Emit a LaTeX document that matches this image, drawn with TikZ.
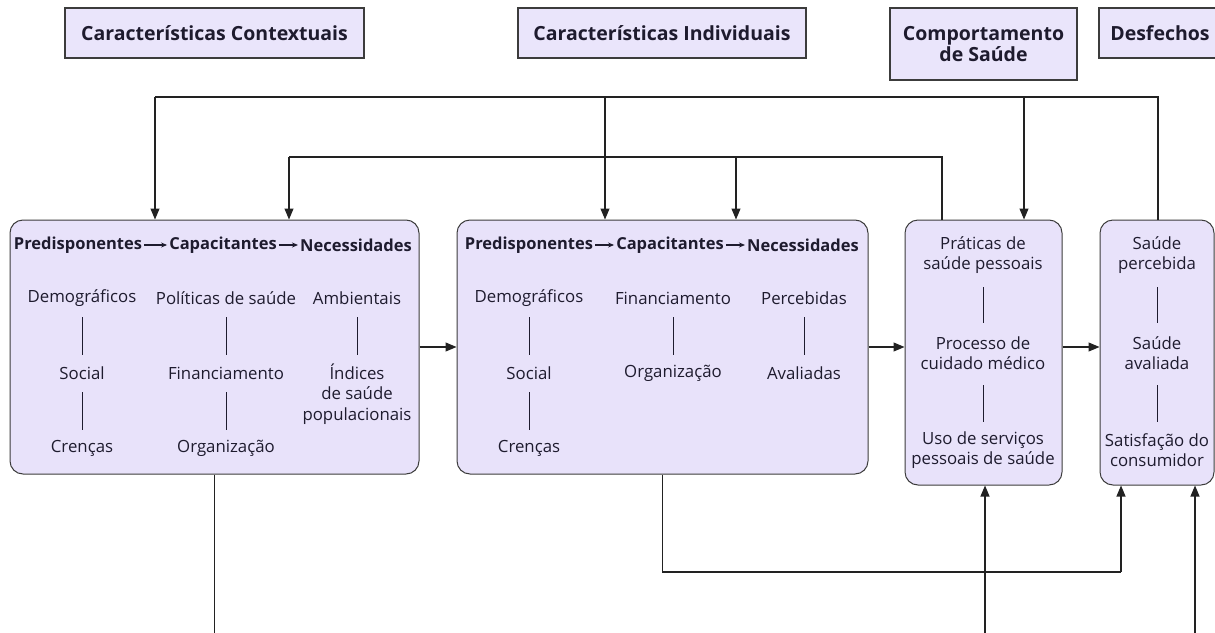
\documentclass[tikz,border=0pt]{standalone}
\usepackage{fontspec}
\setmainfont{Open Sans}
\usetikzlibrary{arrows.meta}
\definecolor{boxfill}{HTML}{E8E2FA}
\definecolor{hdrfill}{HTML}{EAE5FB}
\definecolor{edgecol}{HTML}{3C3C3C}
\definecolor{ink}{HTML}{1E1B2E}
\definecolor{wire}{HTML}{222222}
\begin{document}
\begin{tikzpicture}[x=1pt,y=-1pt,
  hdr/.style={draw=edgecol, fill=hdrfill, line width=1.3pt, text=ink, align=center, inner sep=0pt,
    font=\bfseries\fontsize{19.5}{21.5}\selectfont},
  bigbox/.style={draw=edgecol, fill=boxfill, line width=1pt, rounded corners=13pt, inner sep=0pt},
  item/.style={text=ink, align=center, inner sep=0pt, font=\fontsize{16.8}{20.5}\selectfont},
  cat/.style={text=ink, inner sep=0pt, font=\bfseries\fontsize{16.5}{18}\selectfont},
  bar/.style={draw=ink, line width=1pt},
  catarrow/.style={draw=ink, line width=1.1pt, -{Stealth[length=6pt,width=5pt]}, shorten <=2pt, shorten >=2pt},
  wireline/.style={draw=wire, line width=1.1pt},
  wirearrow/.style={draw=wire, line width=1.1pt, -{Triangle[length=11pt,width=9pt]}}
]
\useasboundingbox (0,0) rectangle (1215,632);

% header boxes
\node[hdr, minimum width=299pt, minimum height=50pt] (hctx) at (214.5,33) {Características Contextuais};
\node[hdr, minimum width=288pt, minimum height=50pt] (hind) at (662,33) {Características Individuais};
\node[hdr, minimum width=187pt, minimum height=72pt] (hcomp) at (983.5,44) {Comportamento\\de Saúde};
\node[hdr, minimum width=122pt, minimum height=50pt] (hdes) at (1160,33) {Desfechos};

% big boxes
\node[bigbox, minimum width=409pt, minimum height=254pt] (big1) at (214.5,347) {};
\node[bigbox, minimum width=411pt, minimum height=254pt] (big2) at (662.5,347) {};
\node[bigbox, minimum width=157pt, minimum height=265pt] (big3) at (983.5,352.5) {};
\node[bigbox, minimum width=114pt, minimum height=265pt] (big4) at (1157,352.5) {};

% box 1 contents
\node[cat] (p1) at (78,245) {Predisponentes};
\node[cat] (c1) at (223,245) {Capacitantes};
\node[cat] (n1) at (356,245) {Necessidades};
\draw[catarrow] (p1.east) -- (c1.west);
\draw[catarrow] (c1.east) -- (n1.west);
\node[item] (a1) at (82,298) {Demográficos};
\node[item] (a2) at (82,373) {Social};
\node[item] (a3) at (82,448) {Crenças};
\node[item] (b1) at (226,298) {Políticas de saúde};
\node[item] (b2) at (226,373) {Financiamento};
\node[item] (b3) at (226,448) {Organização};
\node[item] (d1) at (357,298) {Ambientais};
\node[item] (d2) at (357,394) {Índices\\de saúde\\populacionais};
\draw[bar, shorten <=19pt, shorten >=18pt] (a1.center) -- (a2.center);
\draw[bar, shorten <=19pt, shorten >=18pt] (a2.center) -- (a3.center);
\draw[bar, shorten <=19pt, shorten >=18pt] (b1.center) -- (b2.center);
\draw[bar, shorten <=19pt, shorten >=18pt] (b2.center) -- (b3.center);
\draw[bar, shorten <=19pt, shorten >=18pt] (d1.center) -- (d1.center |- a2.center);

% box 2 contents
\node[cat] (p2) at (529,245) {Predisponentes};
\node[cat] (c2) at (670,245) {Capacitantes};
\node[cat] (n2) at (803,245) {Necessidades};
\draw[catarrow] (p2.east) -- (c2.west);
\draw[catarrow] (c2.east) -- (n2.west);
\node[item] (e1) at (529,298) {Demográficos};
\node[item] (e2) at (529,373) {Social};
\node[item] (e3) at (529,448) {Crenças};
\node[item] (f1) at (673,298) {Financiamento};
\node[item] (f2) at (673,373) {Organização};
\node[item] (g1) at (804,298) {Percebidas};
\node[item] (g2) at (804,373) {Avaliadas};
\draw[bar, shorten <=19pt, shorten >=18pt] (e1.center) -- (e2.center);
\draw[bar, shorten <=19pt, shorten >=18pt] (e2.center) -- (e3.center);
\draw[bar, shorten <=19pt, shorten >=18pt] (f1.center) -- (f2.center);
\draw[bar, shorten <=19pt, shorten >=18pt] (g1.center) -- (g2.center);

% box 3 contents
\node[item] (h1) at (983,255) {Práticas de\\saúde pessoais};
\node[item] (h2) at (983,353) {Processo de\\cuidado médico};
\node[item] (h3) at (983,450) {Uso de serviços\\pessoais de saúde};
\draw[bar, shorten <=32pt, shorten >=30pt] (h1.center) -- (h2.center);
\draw[bar, shorten <=32pt, shorten >=28pt] (h2.center) -- (h3.center);

% box 4 contents
\node[item] (k1) at (1157,255) {Saúde\\percebida};
\node[item] (k2) at (1157,353) {Saúde\\avaliada};
\node[item] (k3) at (1157,450) {Satisfação do\\consumidor};
\draw[bar, shorten <=32pt, shorten >=30pt] (k1.center) -- (k2.center);
\draw[bar, shorten <=32pt, shorten >=28pt] (k2.center) -- (k3.center);

% helper coordinates
\coordinate (railA) at (0,97);
\coordinate (railB) at (0,157);
\coordinate (rowy) at (0,347);
\coordinate (lowrail) at (0,572);
\coordinate (bottom) at (0,640);
\coordinate (x1a) at (155,0);
\coordinate (x1b) at (289,0);
\coordinate (x2a) at (605,0);
\coordinate (x2b) at (736,0);
\coordinate (x3in) at (1024,0);
\coordinate (x3out) at (942,0);
\coordinate (x3up) at (985,0);
\coordinate (x4out) at (1158,0);
\coordinate (x4a) at (1121,0);
\coordinate (x4b) at (1195,0);

% top rails
\draw[wireline] (x4out |- big4.north) -- (x4out |- railA) -- (x1a |- railA);
\draw[wirearrow] (x1a |- railA) -- (x1a |- big1.north);
\draw[wirearrow] (x2a |- railA) -- (x2a |- big2.north);
\draw[wirearrow] (x3in |- railA) -- (x3in |- big3.north);
\draw[wireline] (x3out |- big3.north) -- (x3out |- railB) -- (x1b |- railB);
\draw[wirearrow] (x1b |- railB) -- (x1b |- big1.north);
\draw[wirearrow] (x2b |- railB) -- (x2b |- big2.north);

% horizontal flow
\draw[wirearrow] (big1.east |- rowy) -- (big2.west |- rowy);
\draw[wirearrow] (big2.east |- rowy) -- (big3.west |- rowy);
\draw[wirearrow] (big3.east |- rowy) -- (big4.west |- rowy);

% bottom connectors
\draw[wireline] (big1.south) -- (big1.south |- bottom);
\draw[wireline] (big2.south) -- (big2.south |- lowrail) -- (x4a |- lowrail);
\draw[wirearrow] (x4a |- lowrail) -- (x4a |- big4.south);
\draw[wirearrow] (x3up |- bottom) -- (x3up |- big3.south);
\draw[wirearrow] (x4b |- bottom) -- (x4b |- big4.south);
\end{tikzpicture}
\end{document}
